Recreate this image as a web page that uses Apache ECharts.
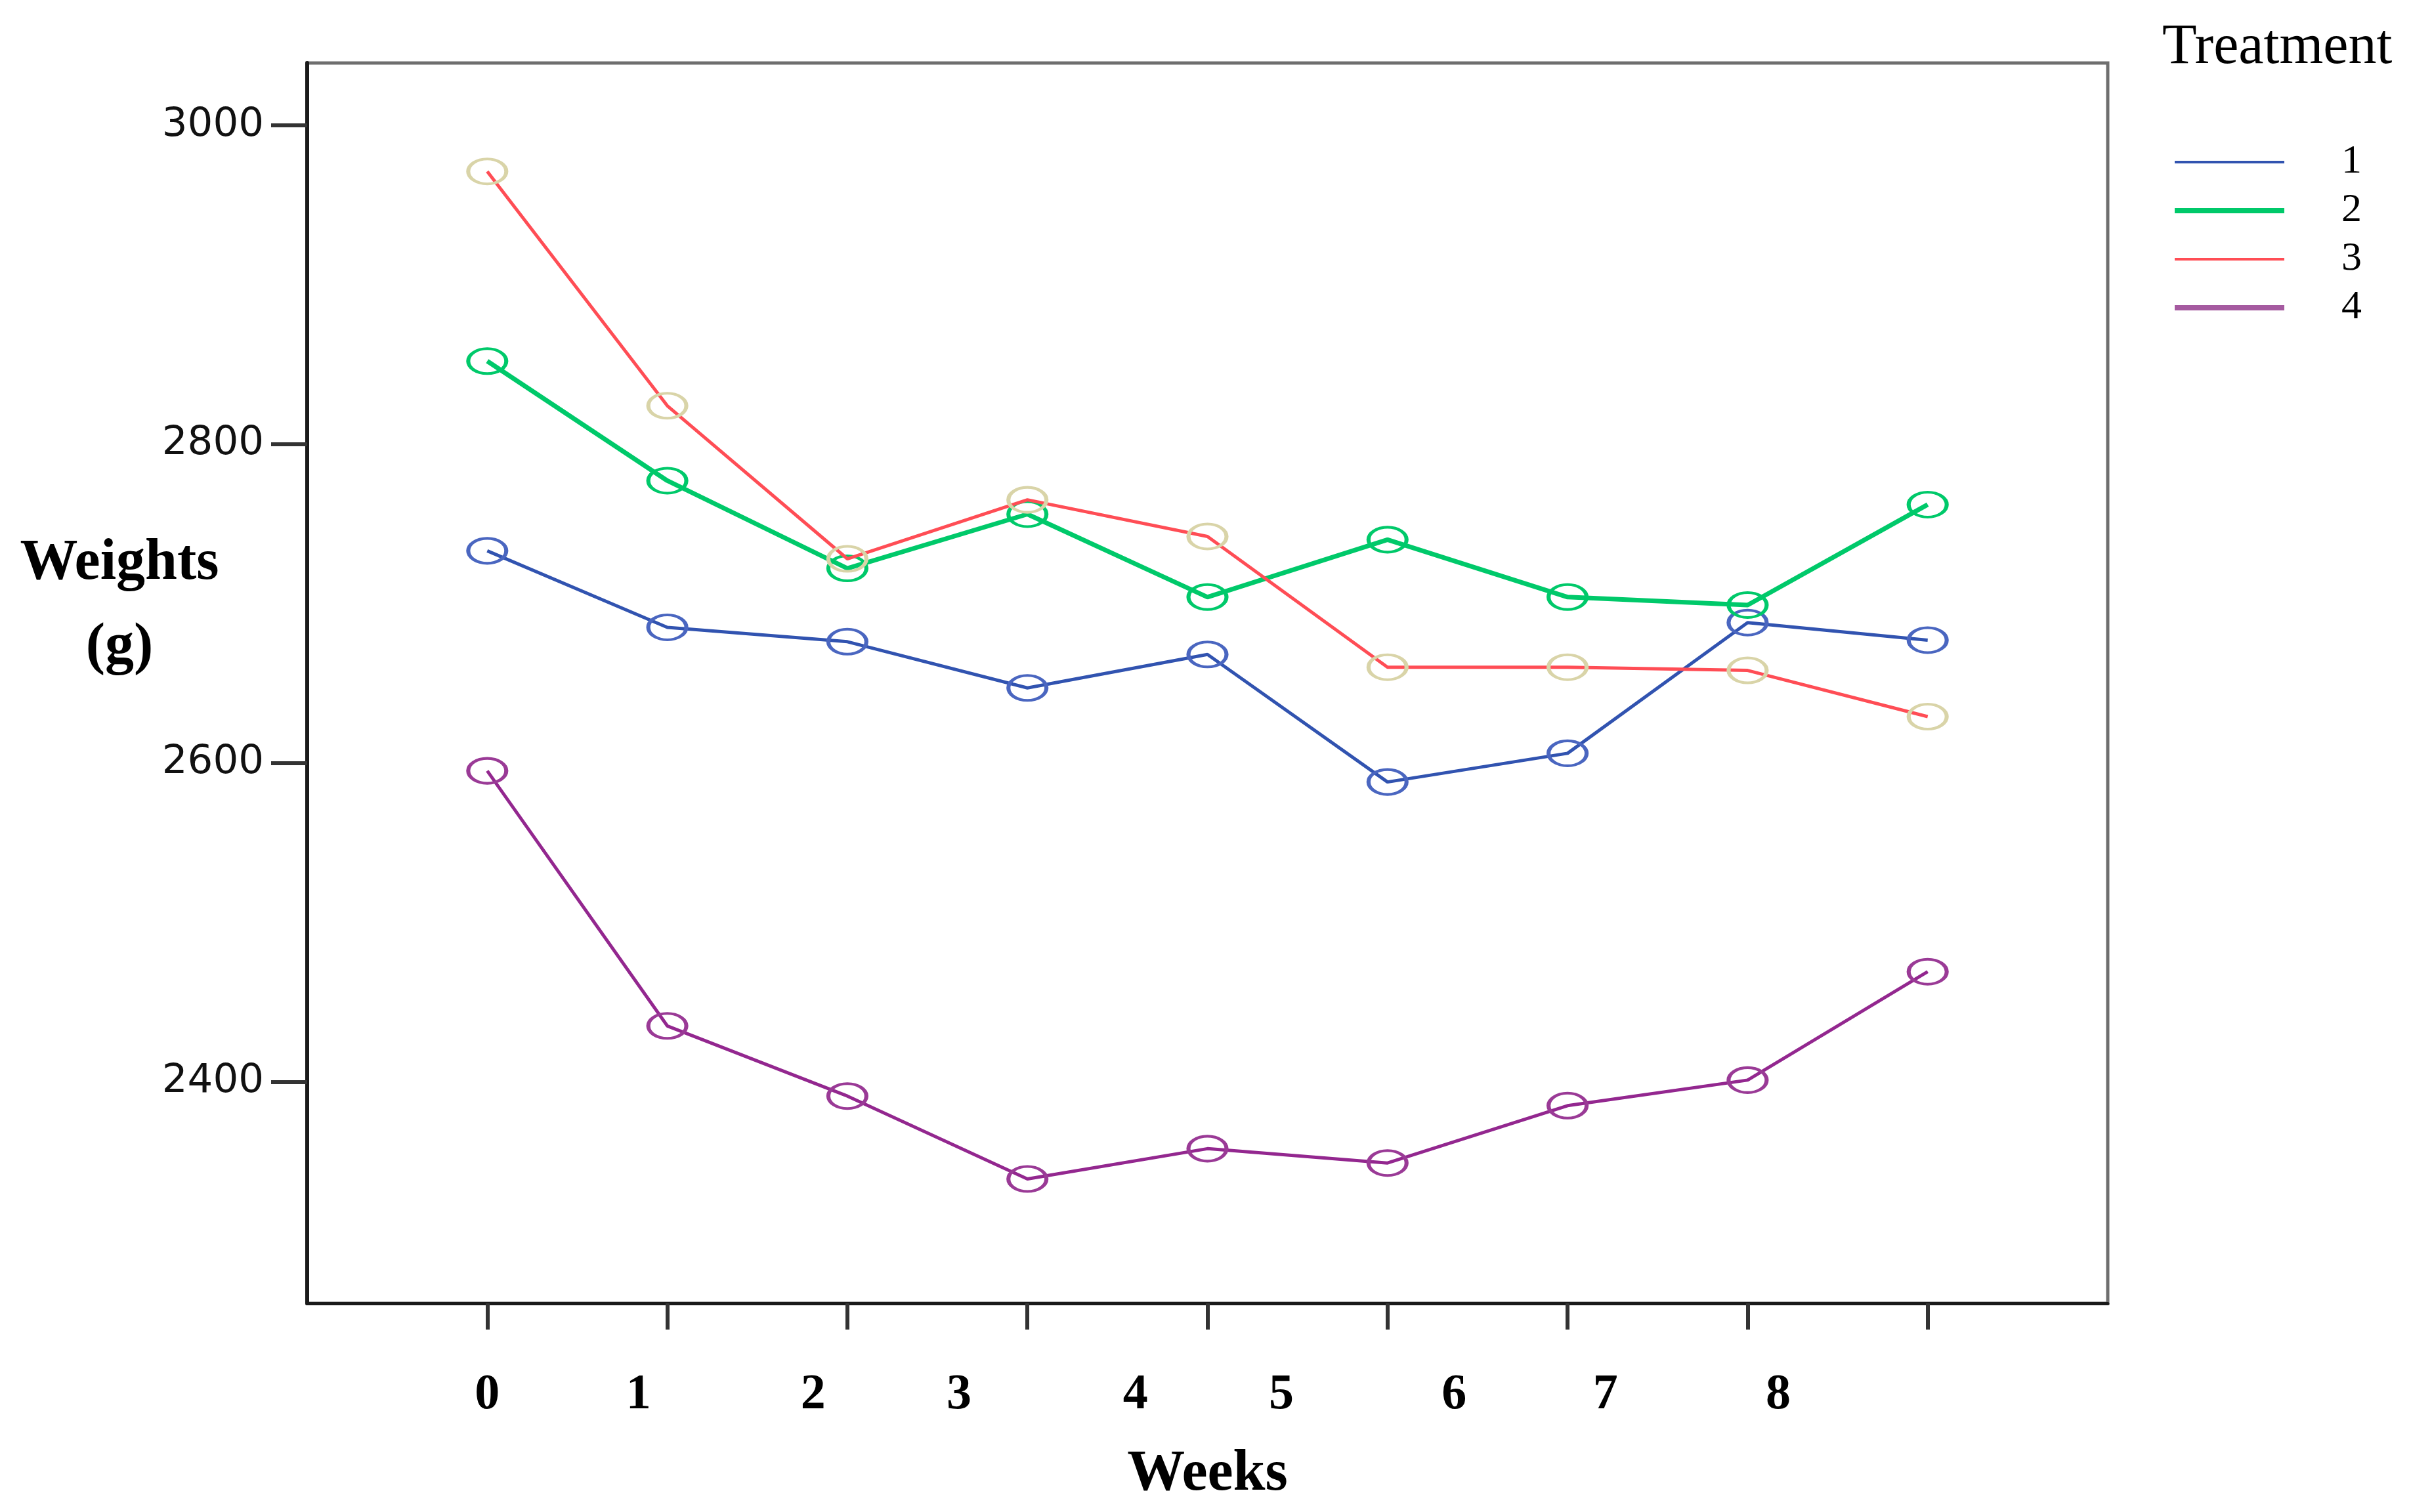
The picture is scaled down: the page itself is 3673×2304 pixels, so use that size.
<!DOCTYPE html>
<html>
<head>
<meta charset="utf-8">
<script src="https://cdn.jsdelivr.net/npm/echarts@6/dist/echarts.min.js"></script>
<style>
html,body{margin:0;padding:0;background:#fff;}
#chart{width:3673px;height:2304px;}
</style>
</head>
<body>
<div id="chart"></div>
<script>
// ---- data ----
const weeks = [0, 1, 2, 3, 4, 5, 6, 7, 8];
const weekLabels = ['0', '1', '2', '3', '4', '5', '6', '7', '8'];
const treatmentNames = ['1', '2', '3', '4'];
const treatment1 = [2733, 2685, 2676, 2647, 2668, 2588, 2606, 2688, 2677];
const treatment2 = [2852, 2777, 2722, 2756, 2704, 2740, 2704, 2699, 2762];
const treatment3 = [2971, 2824, 2728, 2765, 2742, 2660, 2660, 2658, 2629];
const treatment4 = [2595, 2435, 2391, 2339, 2358, 2349, 2385, 2401, 2469];
const yTicks = [2400, 2600, 2800, 3000];

// ---- layout / style constants ----
const weekLabelPos = [0, 0.84, 1.81, 2.62, 3.6, 4.41, 5.37, 6.21, 7.17];
const lineColors = ['#3153b0', '#00c96a', '#ff4d55', '#93278f'];
const legendColors = ['#3153b0', '#00c96a', '#ff4d55', '#a55aa0'];
const markerColors = ['#4a66c0', '#00c96a', '#d9d4a8', '#9a3a96'];
const lineWidths = [5, 7, 5, 5];
const thinIcon = 'path://M0,0M100,10M0,3H100V7H0Z';
const thickIcon = 'path://M0,0M100,10M0,1H100V9H0Z';
const legendIcons = [thinIcon, thickIcon, thinIcon, thickIcon];
const ellipse = 'path://M0,50A50,50 0 1 1 100,50A50,50 0 1 1 0,50Z';

const allValues = [treatment1, treatment2, treatment3, treatment4];

const series = allValues.map((vals, i) => ({
  name: treatmentNames[i],
  type: 'line',
  data: weeks.map((w, k) => [w, vals[k]]),
  symbol: ellipse,
  symbolSize: [58, 38],
  showSymbol: true,
  lineStyle: { color: lineColors[i], width: lineWidths[i] },
  itemStyle: { color: 'rgba(0,0,0,0)', borderColor: markerColors[i], borderWidth: 5 },
  emphasis: { disabled: true },
  z: 3 + i
}));

const chart = echarts.init(document.getElementById('chart'));
chart.setOption({
  animation: false,
  backgroundColor: '#fff',
  grid: {
    left: 468, right: 462, top: 96, bottom: 318,
    show: true, borderColor: '#6e6e6e', borderWidth: 5, backgroundColor: '#fff'
  },
  legend: {
    orient: 'vertical',
    left: 3308,
    top: 211,
    itemWidth: 167,
    itemHeight: 10,
    itemGap: 12,
    symbolKeepAspect: false,
    selectedMode: false,
    itemStyle: { borderWidth: 0 },
    textStyle: {
      fontFamily: 'Liberation Serif', fontSize: 62, lineHeight: 62,
      color: '#000', padding: [0, 0, 0, 82]
    },
    data: treatmentNames.map((n, i) => ({
      name: n, icon: legendIcons[i],
      itemStyle: { color: legendColors[i], borderWidth: 0 }
    }))
  },
  xAxis: {
    type: 'value',
    min: -1,
    max: 9,
    name: 'Weeks',
    nameLocation: 'middle',
    nameGap: 217,
    nameTextStyle: { fontFamily: 'Liberation Serif', fontWeight: 'bold', fontSize: 88, color: '#000', verticalAlign: 'top' },
    splitLine: { show: false },
    axisLine: { show: true, onZero: false, lineStyle: { color: '#1a1a1a', width: 5 } },
    axisTick: { show: true, customValues: weeks, length: 40, lineStyle: { color: '#333', width: 6 } },
    axisLabel: {
      customValues: weekLabelPos,
      formatter: (v) => {
        const idx = weekLabelPos.findIndex(p => Math.abs(p - v) < 1e-6);
        return idx >= 0 ? weekLabels[idx] : '';
      },
      margin: 102,
      fontFamily: 'Liberation Serif', fontWeight: 'bold', fontSize: 76, color: '#000'
    }
  },
  yAxis: {
    type: 'value',
    min: 2261,
    max: 3039,
    splitLine: { show: false },
    axisLine: { show: true, onZero: false, lineStyle: { color: '#1a1a1a', width: 6 } },
    axisTick: { show: true, customValues: yTicks, length: 55, lineStyle: { color: '#333', width: 6 } },
    axisLabel: {
      customValues: yTicks,
      formatter: (v) => String(v),
      margin: 66,
      fontFamily: 'DejaVu Sans', fontSize: 61, color: '#111'
    }
  },
  graphic: [
    {
      type: 'text',
      x: 182,
      y: 815,
      style: {
        text: 'Weights',
        fontFamily: 'Liberation Serif',
        fontWeight: 'bold',
        fontSize: 88,
        textAlign: 'center',
        align: 'center',
        textVerticalAlign: 'top',
        verticalAlign: 'top',
        fill: '#000'
      }
    },
    {
      type: 'text',
      x: 182,
      y: 943,
      style: {
        text: '(g)',
        fontFamily: 'Liberation Serif',
        fontWeight: 'bold',
        fontSize: 88,
        textAlign: 'center',
        align: 'center',
        textVerticalAlign: 'top',
        verticalAlign: 'top',
        fill: '#000'
      }
    },
    {
      type: 'text',
      left: 3294,
      top: 30,
      style: {
        text: 'Treatment',
        fontFamily: 'Liberation Serif',
        fontSize: 86,
        fill: '#000'
      }
    }
  ],
  series: series
});
</script>
</body>
</html>
